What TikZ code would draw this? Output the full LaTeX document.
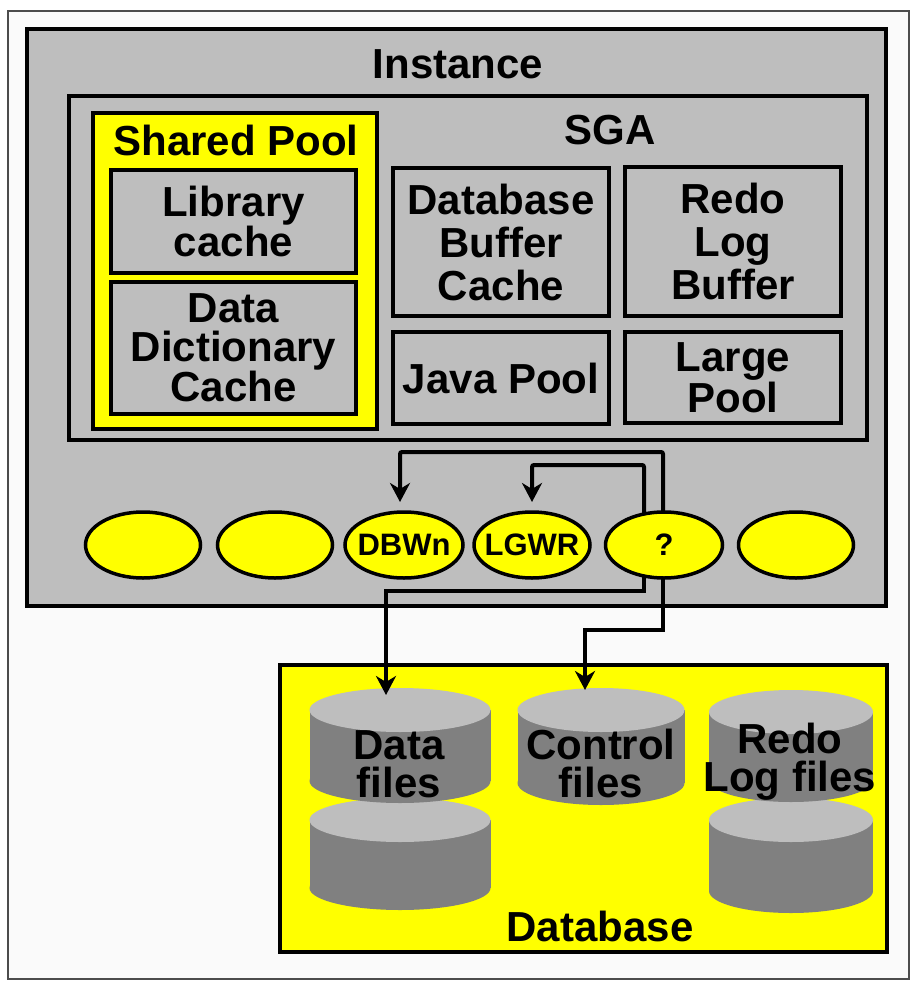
\documentclass[tikz,border=0pt]{standalone}
\usepackage{fontspec}
\setmainfont{Liberation Sans}
\usepackage{xcolor}
\usetikzlibrary{arrows.meta,calc,positioning,shapes.geometric}
\definecolor{oraclegray}{HTML}{BEBEBE}
\definecolor{oracledark}{HTML}{808080}
\definecolor{oracleyellow}{HTML}{FFFF00}
\newcommand{\bigfont}[1]{\fontsize{42}{#1}\selectfont\bfseries}
% name, centre x, top y, bottom y, width
\newcommand{\disk}[5]{%
  \node[diskbody, ellipse, minimum width=#5pt, minimum height=44pt] (#1b) at (#2,#4-22) {};
  \node[diskbody, anchor=north, minimum width=#5pt, minimum height=#4-#3-44pt] (#1m) at (#2,#3+22) {};
  \node[diskbody, ellipse, fill=oraclegray, minimum width=#5pt, minimum height=44pt] (#1) at (#2,#3+22) {};
}
\begin{document}
\begin{tikzpicture}[
    x=1pt, y=-1pt,
    panel/.style={draw, line width=4pt, fill=oraclegray, anchor=north west,
                  inner sep=0pt, outer sep=0pt},
    block/.style={panel, align=center, font=\bigfont{#1}},
    block/.default=43,
    process/.style={draw, line width=3.5pt, ellipse, fill=oracleyellow, inner sep=0pt,
                    outer sep=0pt, minimum width=115pt, minimum height=66pt,
                    label={[font=\fontsize{31}{34}\selectfont\bfseries, inner sep=0pt]center:#1}},
    process/.default={},
    diskbody/.style={fill=oracledark, inner sep=0pt, outer sep=0pt},
    title/.style={inner sep=0pt, align=center, font=\bigfont{#1}},
    title/.default=38,
    arrow/.style={-{Stealth[length=19pt, width=20pt, inset=6pt]}, line width=4pt},
]
\useasboundingbox (0,0) rectangle (915,987);
\fill[white] (0,0) rectangle (915,987);
\node[draw=black!70, line width=2pt, fill=black!2, anchor=north west, inner sep=0pt,
      minimum width=901pt, minimum height=968pt] (frame) at (7,10) {};

% Instance
\node[panel, line width=4.5pt, minimum width=859pt, minimum height=577pt] (inst) at (27,29) {};
\node[title] (instlabel) at (458,64) {Instance};
\node[panel, minimum width=798pt, minimum height=344pt] (sga) at (69,96) {};
\node[title] (sgalabel) at (610,130) {SGA};

% Shared pool
\node[panel, fill=oracleyellow, minimum width=284pt, minimum height=316pt] (pool) at (93,113) {};
\node[title] (poollabel) at (236,140) {Shared Pool};
\node[block=38, minimum width=245pt, minimum height=103pt] (lib) at (111,170) {Library\\cache};
\node[block=39, minimum width=245pt, minimum height=132pt] (dict) at (111,282) {Data\\Dictionary\\Cache};

% Buffers
\node[block, minimum width=216pt, minimum height=148pt] (buf) at (393,168) {Database\\Buffer\\Cache};
\node[block, minimum width=216pt, minimum height=149pt] (redo) at (625,167) {Redo\\Log\\Buffer};
\node[block, minimum width=216pt, minimum height=92pt] (java) at (393,332) {Java Pool};
\node[block=41, minimum width=216pt, minimum height=91pt] (large) at (625,332) {Large\\Pool};

% Processes
\node[process] (p1) at (143,545) {};
\node[process] (p2) at (275,545) {};
\node[process=DBWn, minimum width=118pt] (dbwn) at (404,545) {};
\node[process=LGWR, minimum width=116pt] (lgwr) at (532,545) {};
\node[process=?, minimum width=117pt] (ckpt) at (664,545) {};
\node[process] (p6) at (796,545) {};

% Database
\node[panel, line width=4.5pt, fill=oracleyellow, minimum width=607pt, minimum height=287pt] (db) at (280,665) {};
\node[title] (dblabel) at (600,926) {Database};
\disk{data2}{400}{798}{910}{181}
\disk{data1}{400}{688}{803}{181}
\disk{ctrl}{601}{688}{805}{167}
\disk{log2}{791}{798}{913}{164}
\disk{log1}{791}{690}{802}{164}
\node[title] (datalabel) at (399,764) {Data\\files};
\node[title] (ctrllabel) at (601,763) {Control\\files};
\node[title] (loglabel) at (790,762) {Redo\\Log files};

% Arrows
\coordinate (datain) at (386,695);
\coordinate (ctrlin) at (585,690);
\draw[arrow, rounded corners=2pt] ($(ckpt.north)+(-1,0)$) -- ++(0,-60) -| ($(dbwn.north)+(-4,-10)$);
\draw[arrow, rounded corners=2pt] ($(ckpt.north)+(-20,2)$) -- ++(0,-49) -| ($(lgwr.north)+(0,-10)$);
\draw[arrow] ($(ckpt.south)+(-20,-2)$) -- ++(0,15) -| (datain);
\draw[arrow] ($(ckpt.south)+(-1,0)$) -- ++(0,52) -| (ctrlin);
\end{tikzpicture}
\end{document}
